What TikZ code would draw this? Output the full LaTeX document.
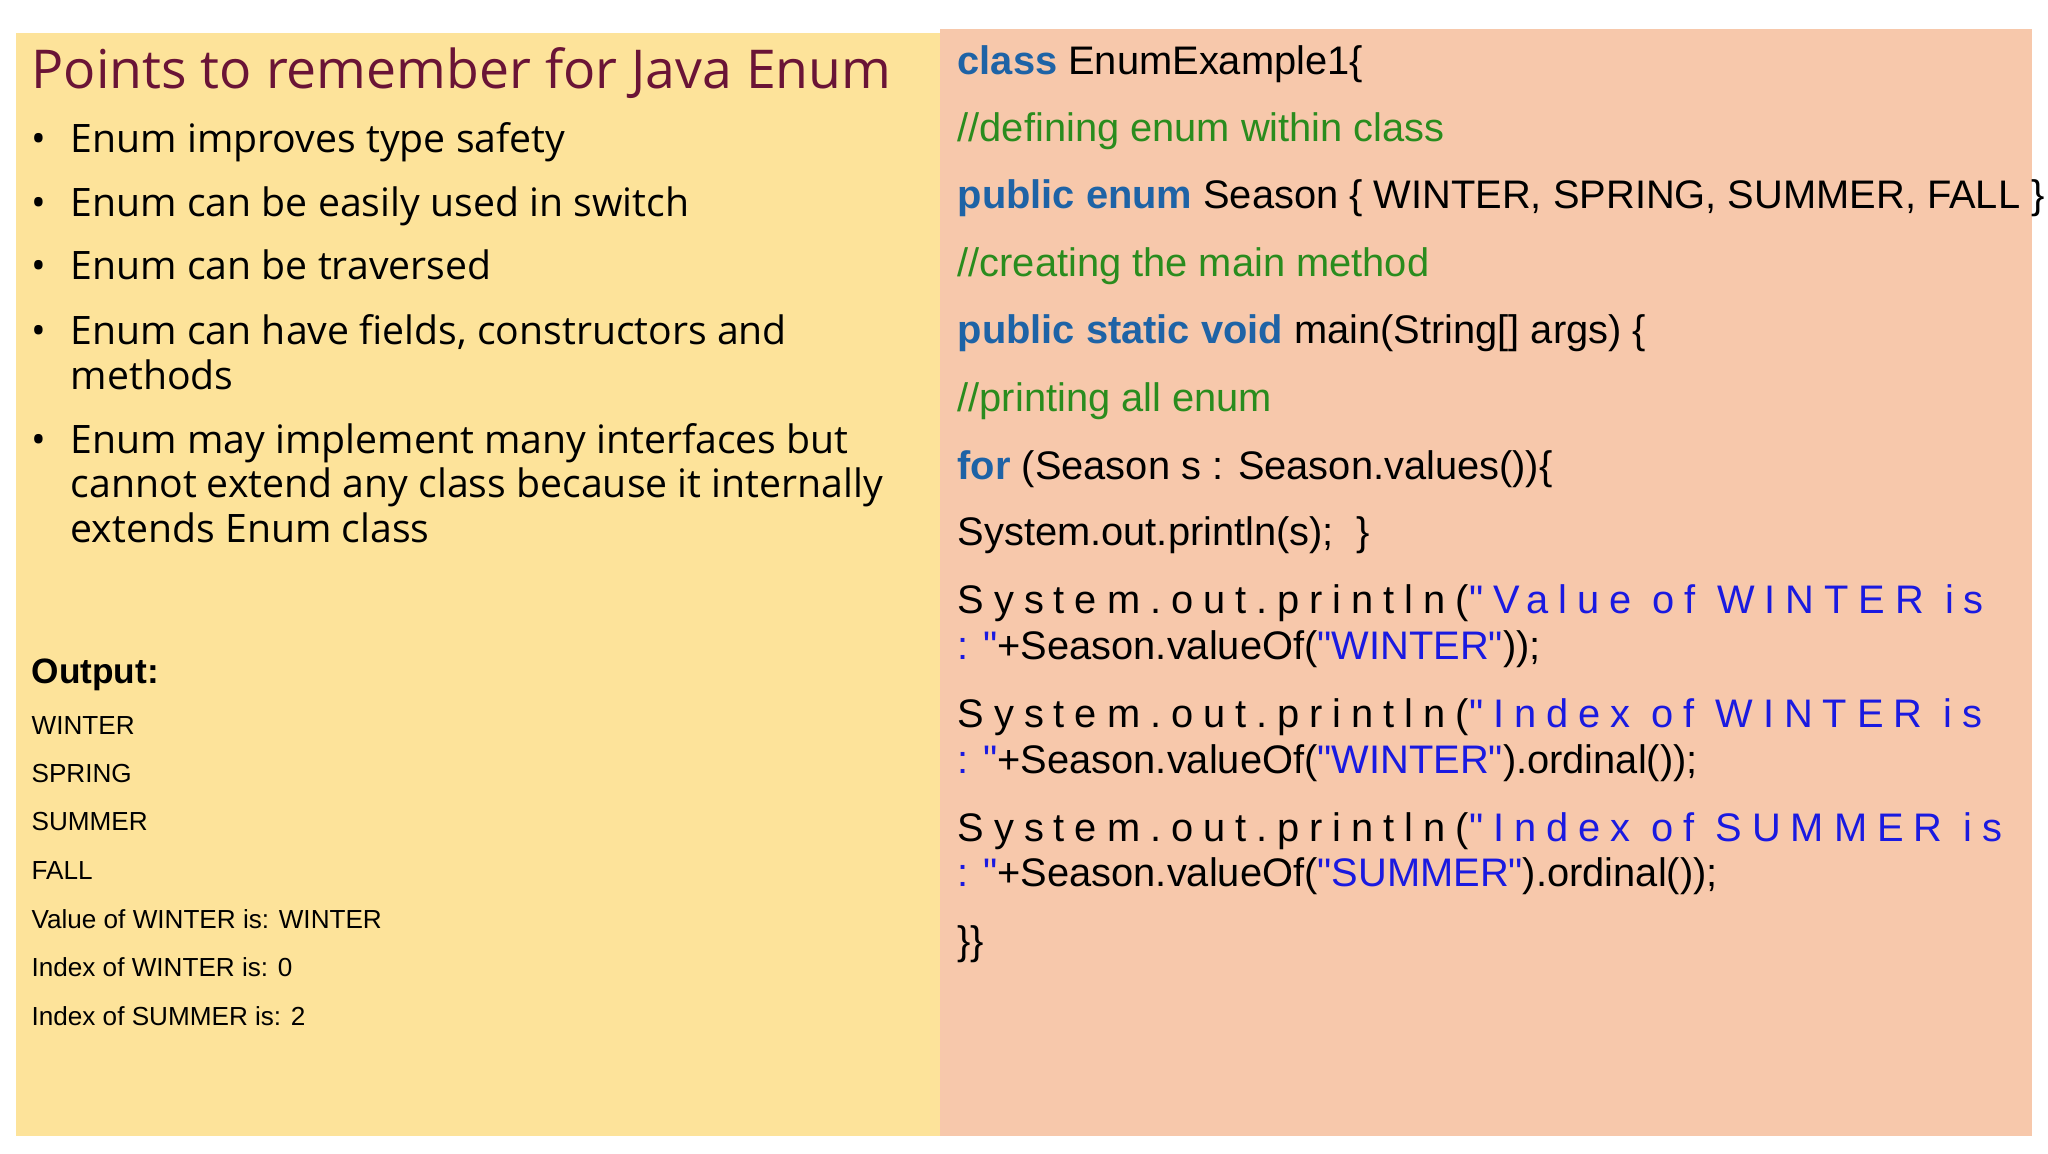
\documentclass[tikz,border=0pt]{standalone}
\usepackage{fontspec}
\setmainfont{Open Sans}
\newfontfamily\codef{Liberation Sans}
\newfontfamily\codesp[LetterSpace=25]{Liberation Sans}
\definecolor{lefty}{HTML}{FDE39A}
\definecolor{rightp}{HTML}{F7C8AB}
\definecolor{titlec}{HTML}{6A1436}
\definecolor{kw}{HTML}{1E63A6}
\definecolor{cm}{HTML}{2A8C1E}
\definecolor{st}{HTML}{1A1AE0}
\begin{document}
\begin{tikzpicture}[x=1pt,y=-1pt,
  bl/.style={anchor=base west,inner sep=0,font=\fontsize{30}{34}\selectfont},
  ot/.style={anchor=base west,inner sep=0,font=\codef\fontsize{20}{24}\selectfont},
  cd/.style={anchor=base west,inner sep=0,font=\codef\fontsize{30.5}{36}\selectfont},
  cs/.style={anchor=base west,inner sep=0,font=\codesp\fontsize{30.5}{36}\selectfont}]
\useasboundingbox (0,0) rectangle (1568,883);
\fill[white] (0,0) rectangle (1568,883);
\fill[lefty] (12,25) rectangle (720,870);
\fill[rightp] (720,22) rectangle (1556,870);
\node[anchor=base west,inner sep=0,text=titlec,font=\fontsize{41}{48}\selectfont] (title) at (24,68) {Points to remember for Java Enum};
\foreach \y/\t [count=\i] in {117/Enum improves type safety,166/Enum can be easily used in switch,214/Enum can be traversed,264/{Enum can have fields, constructors and},347/Enum may implement many interfaces but}{
  \node[bl] (b\i) at (54,\y) {\t};
  \node[bl] (d\i) at (24,\y) {\textbullet};
}
\node[bl] (b4b) at (54,298) {methods};
\node[bl] (b5b) at (54,381) {cannot extend any class because it internally};
\node[bl] (b5c) at (54,415) {extends Enum class};
\node[anchor=base west,inner sep=0,font=\codef\bfseries\fontsize{27}{32}\selectfont] (out) at (24,523) {Output:};
\foreach \y/\t [count=\i] in {562/WINTER,599/SPRING,636/SUMMER,673/FALL,711/Value of WINTER is: WINTER,748/Index of WINTER is: 0,785/Index of SUMMER is: 2}{
  \node[ot] (o\i) at (24,\y) {\t};
}
\node[cd] (c1) at (733,57) {\textcolor{kw}{\bfseries class} EnumExample1\{};
\node[cd,text=cm] (c2) at (733,108) {//defining enum within class};
\node[cd] (c3) at (733,160) {\textcolor{kw}{\bfseries public enum} Season \{ WINTER, SPRING, SUMMER, FALL \}};
\node[cd,text=cm] (c4) at (733,212) {//creating the main method};
\node[cd] (c5) at (733,263) {\textcolor{kw}{\bfseries public static void} main(String[] args) \{};
\node[cd,text=cm] (c6) at (733,315) {//printing all enum};
\node[cd] (c7) at (733,367) {\textcolor{kw}{\bfseries for} (Season s : Season.values())\{};
\node[cd] (c8) at (733,418) {System.out.println(s);\ \ \}};
\node[cs] (c9) at (733,470) {System.out.println(\textcolor{st}{"Value of WINTER is}};
\node[cd] (c9b) at (733,505) {\textcolor{st}{: "}+Season.valueOf(\textcolor{st}{"WINTER"}));};
\node[cs] (c10) at (733,557) {System.out.println(\textcolor{st}{"Index of WINTER is}};
\node[cd] (c10b) at (733,592) {\textcolor{st}{: "}+Season.valueOf(\textcolor{st}{"WINTER"}).ordinal());};
\node[cs] (c11) at (733,644) {System.out.println(\textcolor{st}{"Index of SUMMER is}};
\node[cd] (c11b) at (733,679) {\textcolor{st}{: "}+Season.valueOf(\textcolor{st}{"SUMMER"}).ordinal());};
\node[cd] (c12) at (733,731) {\}\}};
\end{tikzpicture}
\end{document}
